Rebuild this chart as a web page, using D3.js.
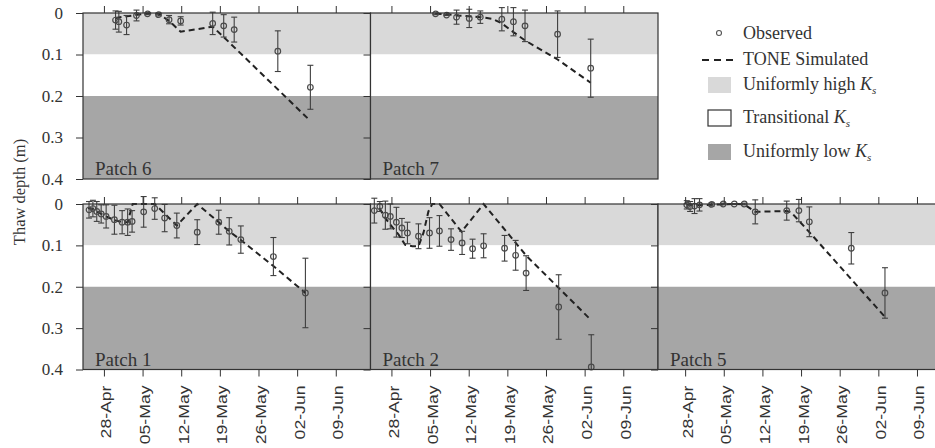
<!DOCTYPE html>
<html>
<head>
<meta charset="utf-8">
<script src="https://cdn.jsdelivr.net/npm/d3@7"></script>
<style>
  body { margin: 0; background: #fff; }
  svg text { font-family: "Liberation Serif", "Times New Roman", serif; fill: #333; }
  svg text.xlab { font-family: "Liberation Sans", Arial, sans-serif; }
</style>
</head>
<body>
<svg width="935" height="448"></svg>
<script>

// ---- data (days are counted from 28 April) ----
var depthTicks = [0, 0.1, 0.2, 0.3, 0.4];
var dateTicks = ["2008-04-28", "2008-05-05", "2008-05-12", "2008-05-19", "2008-05-26", "2008-06-02", "2008-06-09"];

var bandNames = ["Uniformly high", "Transitional", "Uniformly low"];
var bandTop = [0, 0.1, 0.2];
var bandBottom = [0.1, 0.2, 0.4];
var bandColors = ["#d9d9d9", "#ffffff", "#a6a6a6"];

// Patch 6
var p6ObsDay = [2.1, 2.7, 4.1, 5.9, 7.9, 9.9, 11.8, 13.9, 19.7, 21.7, 23.6, 31.5, 37.4];
var p6ObsDepth = [0.017, 0.021, 0.029, 0.006, 0.002, 0.004, 0.016, 0.019, 0.025, 0.031, 0.040, 0.092, 0.179];
var p6ObsErr = [0.022, 0.025, 0.023, 0.013, 0.002, 0.003, 0.010, 0.010, 0.027, 0.027, 0.030, 0.049, 0.053];
var p6SimDay = [2.1, 4.1, 7.9, 9.9, 11.8, 13.9, 19.7, 21.7, 37.4];
var p6SimDepth = [0.012, 0.008, 0.001, 0.002, 0.019, 0.045, 0.033, 0.058, 0.260];

// Patch 7
var p7ObsDay = [8.0, 10.0, 11.8, 14.1, 16.1, 20.0, 22.1, 24.2, 30.1, 36.1];
var p7ObsDepth = [0.002, 0.005, 0.010, 0.013, 0.010, 0.015, 0.021, 0.031, 0.051, 0.133];
var p7ObsErr = [0.002, 0.001, 0.017, 0.022, 0.015, 0.028, 0.034, 0.038, 0.056, 0.070];
var p7SimDay = [8.0, 10.0, 11.8, 14.1, 16.1, 18.3, 20.0, 22.1, 24.2, 30.1, 36.1];
var p7SimDepth = [0.002, 0.003, 0.006, 0.008, 0.010, 0.014, 0.025, 0.046, 0.066, 0.112, 0.168];

// Patch 1
var p1ObsDay = [-2.7, -2.0, -1.3, -0.5, 0.4, 1.9, 3.3, 4.3, 5.1, 7.2, 9.2, 11.0, 13.2, 16.9, 20.8, 22.7, 24.8, 30.7, 36.5];
var p1ObsDepth = [0.014, 0.011, 0.018, 0.024, 0.030, 0.038, 0.044, 0.044, 0.042, 0.019, 0.011, 0.034, 0.052, 0.068, 0.044, 0.066, 0.086, 0.127, 0.215];
var p1ObsErr = [0.020, 0.020, 0.024, 0.022, 0.028, 0.035, 0.028, 0.032, 0.026, 0.037, 0.026, 0.033, 0.030, 0.030, 0.029, 0.033, 0.033, 0.046, 0.084];
var p1SimDay = [-2.9, -2.0, -0.5, 0.4, 1.9, 3.3, 4.3, 5.2, 9.2, 13.2, 16.9, 20.8, 22.7, 24.8, 30.7, 36.5];
var p1SimDepth = [0.010, 0.012, 0.024, 0.030, 0.039, 0.044, 0.044, 0.000, 0.000, 0.052, 0.000, 0.044, 0.066, 0.087, 0.150, 0.215];

// Patch 2
var p2ObsDay = [-3.1, -2.1, -1.1, -0.2, 0.9, 1.9, 2.9, 4.9, 6.9, 8.7, 10.8, 12.8, 14.7, 16.7, 20.5, 22.5, 24.4, 30.3, 36.2];
var p2ObsDepth = [0.016, 0.006, 0.027, 0.030, 0.044, 0.058, 0.070, 0.078, 0.070, 0.065, 0.086, 0.094, 0.108, 0.101, 0.107, 0.124, 0.167, 0.249, 0.394];
var p2ObsErr = [0.030, 0.012, 0.034, 0.030, 0.036, 0.023, 0.026, 0.030, 0.037, 0.037, 0.026, 0.028, 0.023, 0.029, 0.031, 0.036, 0.042, 0.078, 0.078];
var p2SimDay = [-2.2, -1.1, -0.2, 1.3, 2.5, 3.8, 4.9, 5.8, 6.7, 7.4, 8.7, 12.7, 16.7, 24.5, 36.2];
var p2SimDepth = [0.010, 0.034, 0.050, 0.074, 0.099, 0.102, 0.102, 0.070, 0.018, 0.000, 0.000, 0.067, 0.000, 0.126, 0.281];

// Patch 5
var p5ObsDay = [0.3, 0.9, 1.7, 2.6, 4.8, 6.9, 8.9, 10.7, 12.7, 18.4, 20.6, 22.5, 30.1, 36.2];
var p5ObsDepth = [0.002, 0.006, 0.005, 0.002, 0.001, 0.000, 0.000, 0.000, 0.019, 0.016, 0.016, 0.043, 0.107, 0.215];
var p5ObsErr = [0.010, 0.012, 0.018, 0.015, 0.004, 0.002, 0.001, 0.002, 0.029, 0.023, 0.027, 0.036, 0.038, 0.061];
var p5SimDay = [0.3, 2.6, 8.9, 10.7, 12.7, 18.4, 19.2, 22.5, 36.2];
var p5SimDepth = [0.002, 0.003, 0.000, 0.001, 0.019, 0.017, 0.020, 0.068, 0.273];

// x-axis ranges (first and last date shown in each panel)
var rangeA = ["2008-04-24T05:00Z", "2008-06-15T07:00Z"];
var rangeB = ["2008-04-23T02:00Z", "2008-06-14T04:00Z"];

// ---- layout ----
var svg = d3.select("svg");
var serif = '"Liberation Serif", "Times New Roman", serif';
var panelW = 287.5;
var rowTop = [13, 204], rowH = [166, 165.5];
var colLeft = [83, 370.5, 658];
var tickLen = 7;

var base = Date.UTC(2008, 3, 28);
function toDate(d) { return new Date(base + d * 864e5); }
function zipObs(day, dep, err) { return day.map(function (d, i) { return { date: toDate(d), depth: dep[i], err: err[i] }; }); }
function zipSim(day, dep) { return day.map(function (d, i) { return { date: toDate(d), depth: dep[i] }; }); }

var panels = [
    { name: "Patch 6", row: 0, col: 0, range: rangeA, obs: zipObs(p6ObsDay, p6ObsDepth, p6ObsErr), sim: zipSim(p6SimDay, p6SimDepth) },
    { name: "Patch 7", row: 0, col: 1, range: rangeA, obs: zipObs(p7ObsDay, p7ObsDepth, p7ObsErr), sim: zipSim(p7SimDay, p7SimDepth) },
    { name: "Patch 1", row: 1, col: 0, range: rangeA, obs: zipObs(p1ObsDay, p1ObsDepth, p1ObsErr), sim: zipSim(p1SimDay, p1SimDepth) },
    { name: "Patch 2", row: 1, col: 1, range: rangeA, obs: zipObs(p2ObsDay, p2ObsDepth, p2ObsErr), sim: zipSim(p2SimDay, p2SimDepth) },
    { name: "Patch 5", row: 1, col: 2, range: rangeB, obs: zipObs(p5ObsDay, p5ObsDepth, p5ObsErr), sim: zipSim(p5SimDay, p5SimDepth) }
];

var fmt = d3.utcFormat("%d-%b");
var tickDates = dateTicks.map(function (s) { return new Date(s + "T00:00Z"); });

panels.forEach(function (p) {
    var x = d3.scaleUtc().domain(p.range.map(function (s) { return new Date(s); })).range([0, panelW]);
    var h = rowH[p.row];
    var y = d3.scaleLinear().domain([0, 0.4]).range([0, h]);

    var g = svg.append("g").attr("transform", `translate(${colLeft[p.col]},${rowTop[p.row]})`);

    // background bands
    g.selectAll("rect.band").data(bandTop).enter().append("rect")
        .attr("class", "band")
        .attr("x", 0).attr("width", panelW)
        .attr("y", function (d) { return y(d); })
        .attr("height", function (d, i) { return y(bandBottom[i]) - y(d); })
        .attr("fill", function (d, i) { return bandColors[i]; });

    // simulated line
    var line = d3.line().x(function (d) { return x(d.date); }).y(function (d) { return y(d.depth); });
    g.append("path").datum(p.sim)
        .attr("d", line)
        .attr("fill", "none").attr("stroke", "#222")
        .attr("stroke-width", 2).attr("stroke-dasharray", "6,4");

    // error bars, cut at the bottom of the panel
    var eb = g.selectAll("g.eb").data(p.obs).enter().append("g").attr("class", "eb")
        .attr("stroke", "#3f3f3f").attr("stroke-width", 1.1);
    eb.append("line")
        .attr("x1", function (d) { return x(d.date); }).attr("x2", function (d) { return x(d.date); })
        .attr("y1", function (d) { return y(d.depth - d.err); })
        .attr("y2", function (d) { return y(Math.min(0.4, d.depth + d.err)); });
    eb.append("line")
        .attr("x1", function (d) { return x(d.date) - 3; }).attr("x2", function (d) { return x(d.date) + 3; })
        .attr("y1", function (d) { return y(d.depth - d.err); }).attr("y2", function (d) { return y(d.depth - d.err); });
    eb.filter(function (d) { return d.depth + d.err < 0.4; }).append("line")
        .attr("x1", function (d) { return x(d.date) - 3; }).attr("x2", function (d) { return x(d.date) + 3; })
        .attr("y1", function (d) { return y(d.depth + d.err); }).attr("y2", function (d) { return y(d.depth + d.err); });

    // observed points
    g.selectAll("circle.obs").data(p.obs).enter().append("circle")
        .attr("class", "obs")
        .attr("cx", function (d) { return x(d.date); })
        .attr("cy", function (d) { return y(d.depth); })
        .attr("r", 2.8)
        .attr("fill", "none").attr("stroke", "#4a4a4a").attr("stroke-width", 1.2);

    // frame
    g.append("rect").attr("width", panelW).attr("height", h)
        .attr("fill", "none").attr("stroke", "#333").attr("stroke-width", 1.2);

    // y axis ticks, labels only in the first column
    var yAxis = d3.axisLeft(y).tickValues(depthTicks).tickSize(tickLen)
        .tickFormat(p.col === 0 ? d3.format("") : "");
    var ya = g.append("g").call(yAxis).attr("font-family", serif).attr("font-size", 17);
    ya.select(".domain").remove();
    ya.selectAll("line").attr("stroke", "#333");
    ya.selectAll("text").attr("x", -20).attr("fill", "#333");

    // x ticks on top of every panel
    var xt = g.append("g").call(d3.axisTop(x).tickValues(tickDates).tickSize(tickLen).tickFormat(""));
    xt.select(".domain").remove();
    xt.selectAll("line").attr("stroke", "#333");

    // x ticks and date labels below the bottom row
    if (p.row === 1) {
        var xb = g.append("g").attr("transform", `translate(0,${h})`)
            .call(d3.axisBottom(x).tickValues(tickDates).tickSize(tickLen).tickFormat(fmt));
        xb.select(".domain").remove();
        xb.selectAll("line").attr("stroke", "#333");
        xb.selectAll("text")
            .attr("class", "xlab")
            .attr("font-size", 14).attr("fill", "#444")
            .attr("text-anchor", "end")
            .attr("y", 0).attr("dy", null)
            .attr("transform", "translate(7,16) rotate(-90) scale(1.26,1)");
    }

    // panel name
    g.append("text").attr("x", 12).attr("y", h - 4)
        .attr("font-size", 19).text(p.name);
});

// y axis title
svg.append("text")
    .attr("transform", "translate(25,192) rotate(-90)")
    .attr("text-anchor", "middle").attr("font-size", 16.5)
    .text("Thaw depth (m)");

// ---- legend ----
var leg = svg.append("g").attr("font-size", 18);
leg.append("circle").attr("cx", 719).attr("cy", 33).attr("r", 2.5)
    .attr("fill", "none").attr("stroke", "#555").attr("stroke-width", 1.1);
leg.append("text").attr("x", 743).attr("y", 39).text("Observed");

leg.append("line").attr("x1", 702).attr("x2", 736).attr("y1", 60).attr("y2", 60)
    .attr("stroke", "#222").attr("stroke-width", 2).attr("stroke-dasharray", "7,5");
leg.append("text").attr("x", 743).attr("y", 65).text("TONE Simulated");

var legRowY = [77, 110, 144];
bandNames.forEach(function (name, i) {
    leg.append("rect").attr("x", 708).attr("y", legRowY[i]).attr("width", 23).attr("height", 16)
        .attr("fill", bandColors[i])
        .attr("stroke", i === 1 ? "#333" : "none").attr("stroke-width", 1.2);
    var t = leg.append("text").attr("x", 743).attr("y", legRowY[i] + 13);
    t.append("tspan").text(name + " ");
    t.append("tspan").attr("font-style", "italic").text("K");
    t.append("tspan").attr("font-style", "italic").attr("font-size", 11).attr("dy", 4).text("s");
});

</script>
</body>
</html>
